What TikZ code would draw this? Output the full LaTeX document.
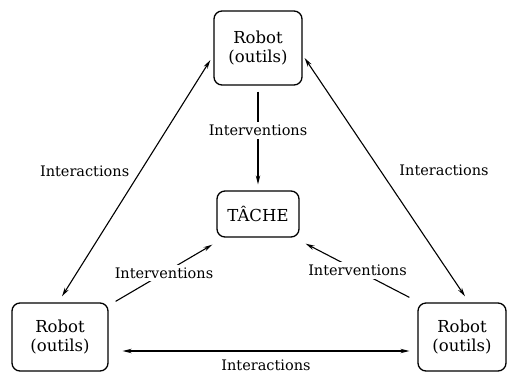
\documentclass[tikz,border=0pt]{standalone}
\usepackage{fontspec}
\setmainfont{DejaVu Serif}
\usetikzlibrary{arrows.meta}
\begin{document}
\begin{tikzpicture}[x=1pt,y=-1pt,
  boxnode/.style={draw,line width=1.3pt,rounded corners=8pt,align=center,font=\fontsize{16.5}{19.5}\selectfont,inner sep=2pt},
  lbl/.style={fill=white,font=\fontsize{14.5}{17}\selectfont,inner sep=3pt},
  arr/.style={line width=1.1pt,-{Stealth[length=9pt,width=4.5pt]}},
  darr/.style={line width=1.1pt,{Stealth[length=9pt,width=4.5pt]}-{Stealth[length=9pt,width=4.5pt]}}]
\useasboundingbox (0,0) rectangle (508,373);
\node[boxnode,minimum width=88pt,minimum height=74pt] (top) at (258,48) {Robot\\(outils)};
\node[boxnode,minimum width=82pt,minimum height=46pt] (tache) at (258,214) {TÂCHE};
\node[boxnode,minimum width=96pt,minimum height=68pt] (bl) at (60,337) {Robot\\(outils)};
\node[boxnode,minimum width=88pt,minimum height=68pt] (br) at (462,337) {Robot\\(outils)};
% interactions
\draw[darr] ([shift={(-3,12)}]top.west) -- node[lbl,pos=0.47,xshift=-56pt,fill=none] {Interactions} ([shift={(2,-6)}]bl.north);
\draw[darr] ([shift={(2,10)}]top.east) -- node[lbl,pos=0.47,xshift=64pt,fill=none] {Interactions} ([shift={(3,-6)}]br.north);
\draw[darr] ([shift={(14,14)}]bl.east) -- node[lbl,pos=0.5,yshift=-14pt,fill=none] {Interactions} ([shift={(-8,14)}]br.west);
% interventions
\draw[arr] ([shift={(0,6)}]top.south) -- node[lbl,pos=0.42] {Interventions} ([shift={(0,-6)}]tache.north);
\draw[arr] ([shift={(7,-1)}]bl.north east) -- node[lbl,pos=0.5] {Interventions} ([shift={(-4,7)}]tache.south west);
\draw[arr] ([shift={(-8,-5)}]br.north west) -- node[lbl,pos=0.5] {Interventions} ([shift={(6,6)}]tache.south east);
\end{tikzpicture}
\end{document}
